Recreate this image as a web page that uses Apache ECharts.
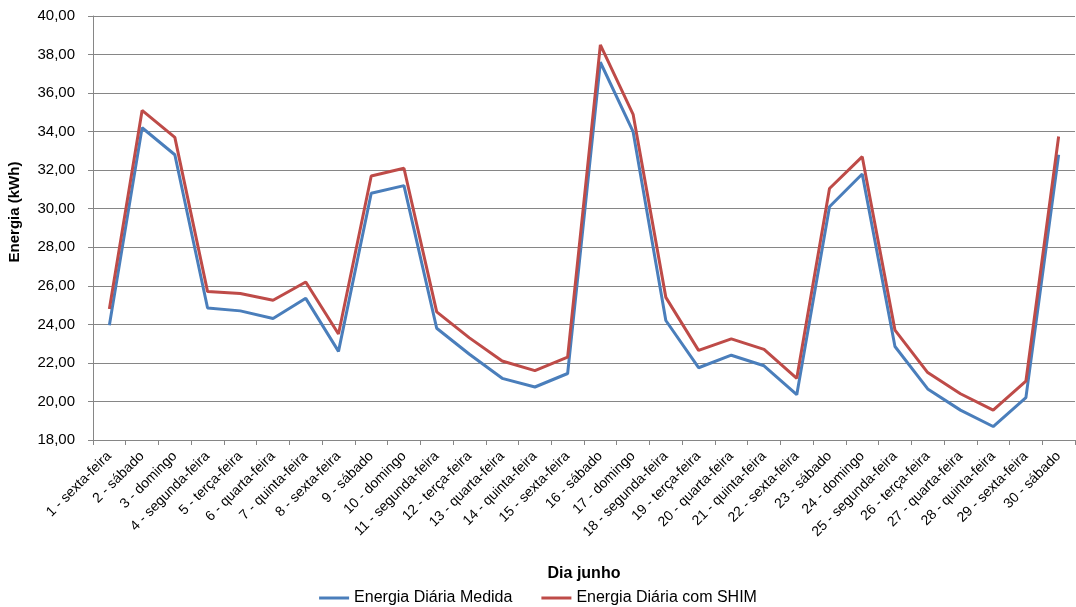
<!DOCTYPE html>
<html>
<head>
<meta charset="utf-8">
<script src="https://cdn.jsdelivr.net/npm/echarts@6/dist/echarts.min.js"></script>
<style>html,body{margin:0;padding:0;background:#fff}#c{width:1076px;height:607px}</style>
</head>
<body>
<div id="c"></div>
<script>
const categories = ["1 - sexta-feira","2 - sábado","3 - domingo","4 - segunda-feira","5 - terça-feira","6 - quarta-feira","7 - quinta-feira","8 - sexta-feira","9 - sábado","10 - domingo","11 - segunda-feira","12 - terça-feira","13 - quarta-feira","14 - quinta-feira","15 - sexta-feira","16 - sábado","17 - domingo","18 - segunda-feira","19 - terça-feira","20 - quarta-feira","21 - quinta-feira","22 - sexta-feira","23 - sábado","24 - domingo","25 - segunda-feira","26 - terça-feira","27 - quarta-feira","28 - quinta-feira","29 - sexta-feira","30 - sábado"];
const medida = [23.95,34.2,32.8,24.85,24.7,24.3,25.35,22.6,30.8,31.2,23.8,22.45,21.2,20.75,21.45,37.6,34.0,24.2,21.75,22.4,21.85,20.35,30.1,31.8,22.85,20.65,19.55,18.7,20.2,32.8];
const shim = [24.8,35.1,33.7,25.7,25.6,25.25,26.2,23.5,31.7,32.1,24.65,23.3,22.1,21.6,22.3,38.5,34.9,25.4,22.65,23.25,22.7,21.2,31.05,32.7,23.7,21.5,20.4,19.55,21.05,33.75];
const seriesNames = ["Energia Diária Medida","Energia Diária com SHIM"];

const FONT = "Liberation Sans";
const chart = echarts.init(document.getElementById('c'), null, {renderer:'canvas'});
chart.setOption({
  animation:false,
  textStyle:{fontFamily:FONT},
  grid:{left:93,right:1,top:16,bottom:167,containLabel:false,outerBoundsMode:'none'},
  legend:{
    top:585, left:'center',
    itemWidth:30, itemHeight:3, itemGap:29,
    icon:'rect',
    textStyle:{fontFamily:FONT,fontSize:16,color:'#000'},
    data:seriesNames
  },
  xAxis:{
    type:'category', data:categories, boundaryGap:true,
    name:'Dia junho', nameLocation:'middle', nameGap:126,
    nameTextStyle:{fontFamily:FONT,fontSize:16,fontWeight:'bold',color:'#000'},
    axisLine:{lineStyle:{color:'#868686',width:1}},
    axisTick:{show:true,alignWithLabel:false,length:5,lineStyle:{color:'#868686'}},
    axisLabel:{rotate:45,interval:0,fontSize:14,color:'#000',margin:14},
    splitLine:{show:false}
  },
  yAxis:{
    type:'value', min:18, max:40, interval:2,
    name:'Energia (kWh)', nameLocation:'middle', nameGap:71, nameRotate:90,
    nameTextStyle:{fontFamily:FONT,fontSize:15,fontWeight:'bold',color:'#000',padding:[0,0,0,32]},
    axisLine:{show:true,lineStyle:{color:'#868686'}},
    axisTick:{show:true,length:5,lineStyle:{color:'#868686'}},
    axisLabel:{fontSize:15,color:'#000',margin:18,formatter:v=>v.toFixed(2).replace('.',',')},
    splitLine:{lineStyle:{color:'#868686',width:1}}
  },
  series:[
    {name:seriesNames[0],type:'line',data:medida,symbol:'none',lineStyle:{color:'#4A7EBB',width:3},itemStyle:{color:'#4A7EBB'}},
    {name:seriesNames[1],type:'line',data:shim,symbol:'none',lineStyle:{color:'#BE4B48',width:3},itemStyle:{color:'#BE4B48'}}
  ]
});
</script>
</body>
</html>
